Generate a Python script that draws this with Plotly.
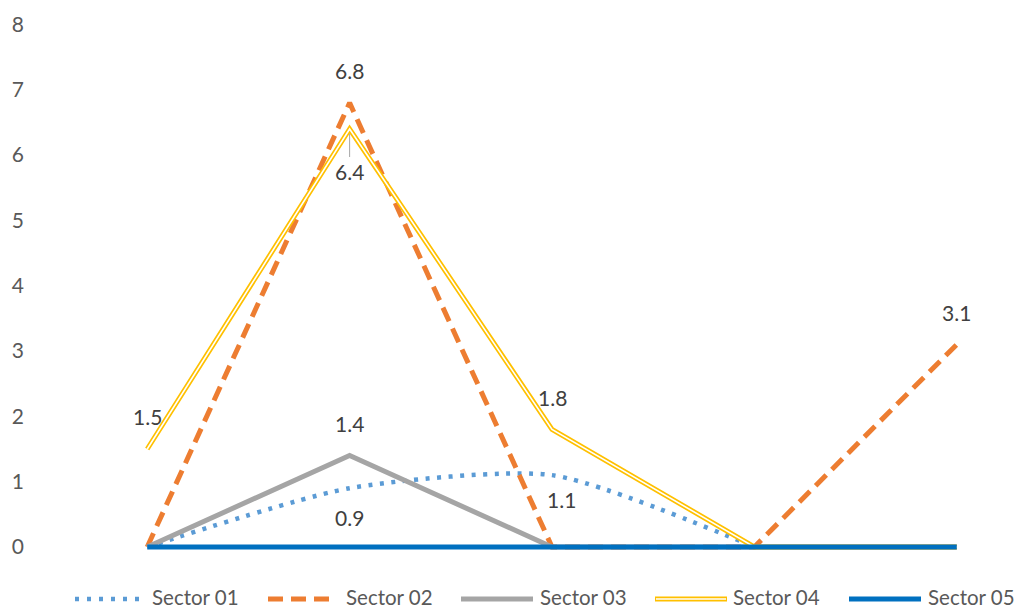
import plotly.graph_objects as go

# Category positions (no visible category labels on the x axis)
categories = [0, 1, 2, 3, 4]

sector_01 = [0, 0.9, 1.1, 0, None]
sector_02 = [0, 6.8, 0, 0, 3.1]
sector_03 = [0, 1.4, 0, 0, 0]
sector_04 = [1.5, 6.4, 1.8, 0, 0]
sector_05 = [0, 0, 0, 0, 0]

series_names = ["Sector 01", "Sector 02", "Sector 03", "Sector 04", "Sector 05"]
y_ticks = [0, 1, 2, 3, 4, 5, 6, 7, 8]

C_DOT = "#5B9BD5"
C_ORANGE = "#ED7D31"
C_GRAY = "#A5A5A5"
C_YELLOW = "#FFC000"
C_BLUE = "#0070C0"
TXT = "#595959"
LBL = "#404040"
FONT = "Lato"
FS = 21

W, H = 1020, 610
ML, MR, MT, MB = 127, 43, 18, 50
PW, PH = W - ML - MR, H - MT - MB

fig = go.Figure()

fig.add_trace(go.Scatter(x=categories, y=sector_01, mode="lines",
                         line=dict(color=C_DOT, width=4.5, dash="4px,7.5px",
                                   shape="spline", smoothing=0.65),
                         showlegend=False, hoverinfo="skip"))
fig.add_trace(go.Scatter(x=categories, y=sector_02, mode="lines",
                         line=dict(color=C_ORANGE, width=5, dash="15px,8px"),
                         showlegend=False, hoverinfo="skip"))
fig.add_trace(go.Scatter(x=categories, y=sector_03, mode="lines",
                         line=dict(color=C_GRAY, width=5),
                         showlegend=False, hoverinfo="skip"))
# Double line: wide yellow stroke with a thin white core
fig.add_trace(go.Scatter(x=categories, y=sector_04, mode="lines",
                         line=dict(color=C_YELLOW, width=5),
                         showlegend=False, hoverinfo="skip"))
fig.add_trace(go.Scatter(x=categories, y=sector_04, mode="lines",
                         line=dict(color="white", width=1.6),
                         showlegend=False, hoverinfo="skip"))
fig.add_trace(go.Scatter(x=categories, y=sector_05, mode="lines",
                         line=dict(color=C_BLUE, width=5),
                         showlegend=False, hoverinfo="skip"))

# Data labels for non-zero values: (series, yshift)
label_specs = [
    (sector_01, -29),
    (sector_02, 32),
    (sector_03, 32),
    (sector_04, 32),
]
annotations = []
for values, ys in label_specs:
    for i, v in enumerate(values):
        if not v:
            continue
        shift_y, shift_x = ys, 0
        if values is sector_01 and i == 2:
            shift_y, shift_x = -24, 9
        if values is sector_04 and i == 1:
            continue
        annotations.append(dict(x=categories[i], y=v, text=f"{v:.1f}", showarrow=False,
                                yshift=shift_y, xshift=shift_x,
                                font=dict(family=FONT, size=FS, color=LBL)))

# Label below the Sector 04 peak, with a leader line
peak_i = 1
annotations.append(dict(x=categories[peak_i], y=sector_04[peak_i], text=f"{sector_04[peak_i]:.1f}",
                        showarrow=True, ax=0, ay=42, arrowhead=0, arrowwidth=1,
                        arrowcolor="#A6A6A6", standoff=5,
                        font=dict(family=FONT, size=FS, color=LBL)))

# Legend drawn as shapes + text along the bottom
def px(xp):
    return (xp - ML) / PW

def py(yp):
    return (H - MB - yp) / PH

legend_line_y = 599
legend_text_y = 597
legend_items = [
    (75, 140, 151, dict(color=C_DOT, width=4.5, dash="4px,8px")),
    (268, 332, 345, dict(color=C_ORANGE, width=5, dash="15px,8px")),
    (461, 533, 539, dict(color=C_GRAY, width=5)),
    (655, 727, 732, dict(color=C_YELLOW, width=5)),
    (849, 921, 927, dict(color=C_BLUE, width=5)),
]
shapes = []
for (x0, x1, xt, ln), name in zip(legend_items, series_names):
    shapes.append(dict(type="line", xref="paper", yref="paper",
                       x0=px(x0), x1=px(x1), y0=py(legend_line_y), y1=py(legend_line_y), line=ln))
    if name == "Sector 04":
        shapes.append(dict(type="line", xref="paper", yref="paper",
                           x0=px(x0 + 1), x1=px(x1 - 1), y0=py(legend_line_y), y1=py(legend_line_y),
                           line=dict(color="white", width=1.6)))
    annotations.append(dict(xref="paper", yref="paper", x=px(xt), y=py(legend_text_y),
                            xanchor="left", yanchor="middle", text=name, showarrow=False,
                            borderpad=0,
                            font=dict(family=FONT, size=20.5, color=TXT)))

fig.update_layout(
    width=W, height=H,
    margin=dict(l=ML, r=MR, t=MT, b=MB),
    paper_bgcolor="white", plot_bgcolor="white",
    showlegend=False,
    shapes=shapes,
    annotations=annotations,
    xaxis=dict(range=[-0.1, 4.1], visible=False),
    yaxis=dict(range=[-0.2, 8.1], tickvals=y_ticks, showgrid=False, zeroline=False,
               showline=False, ticks="", ticklabelstandoff=102,
               tickfont=dict(family=FONT, size=FS, color=TXT)),
)

fig.write_html("out.html")
